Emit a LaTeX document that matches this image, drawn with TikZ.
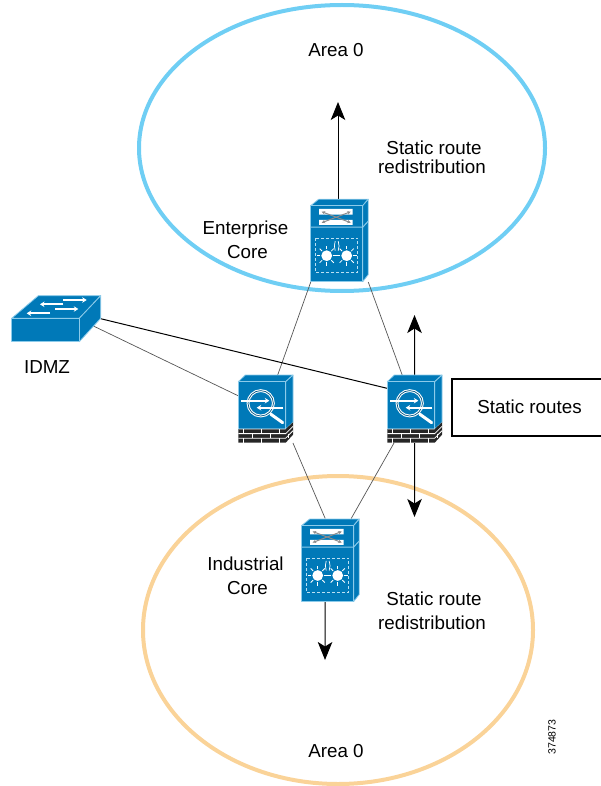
\documentclass[tikz,border=0pt]{standalone}
\usepackage{fontspec}
\setmainfont{Liberation Sans}
\usetikzlibrary{arrows.meta}
\definecolor{CiscoBlue}{HTML}{0079B8}
\definecolor{CiscoEdge}{HTML}{8CCBEA}
\definecolor{AreaCyan}{HTML}{6FCEF4}
\definecolor{AreaPeach}{HTML}{FAD398}
\definecolor{LinkGrey}{HTML}{555555}

\begin{document}
\begin{tikzpicture}[x=1pt,y=-1pt,
    node font=\fontsize{18.8}{19}\selectfont,
    area/.style={line width=4pt,draw=#1},
    iconbox/.style={inner sep=0pt,outer sep=0pt,minimum width=#1},
    link/.style={draw=LinkGrey,line width=0.7pt},
    flow/.style={draw=black,line width=1pt,-{Stealth[length=18pt,width=14.5pt,inset=4.5pt]}},
    caption/.style={align=center,inner sep=0pt},
    face/.style={fill=CiscoBlue,draw=CiscoEdge,line width=0.8pt,line join=round},
    whitearrow/.style={draw=white,line width=1.7pt,-{Stealth[length=4.5pt,width=5.5pt]}},
    core icon/.pic={
        \path[face] (0,0) -- (8,-6.5) -- (57.5,-6.5) -- (52,0) -- cycle;
        \path[face] (52,0) -- (57.5,-6.5) -- (57.5,69) -- (52,76) -- cycle;
        \path[face] (0,0) rectangle (52,76);
        \draw[CiscoEdge,line width=1pt] (0,21.5) -- (52,21.5) -- (57.5,15.5);
        \fill[white] (8.3,3.3) rectangle (42,8.9) (8.3,14.3) rectangle (42,19.3);
        \foreach \A/\B in {6/17,17/6}
           \draw[black!45,line width=1pt,{Stealth[length=3.5pt,width=3.5pt]}-{Stealth[length=3.5pt,width=3.5pt]}] (11,\A) -- (40,\B);
        \draw[CiscoEdge!60!white,line width=1pt,dash pattern=on 3pt off 2pt] (5,32.5) rectangle (47,67);
        \foreach \X in {16,36}{
           \fill[white] (\X,50) circle (5.4);
           \foreach \R in {0,45,...,315}
              \draw[white,line width=0.8pt] (\X,50) ++(\R:6.5) -- ++(\R:3.5);
        }
        \draw[white,line width=0.7pt] (24.5,45) arc (160:200:14) (27.5,45) arc (20:-20:14);
    },
    firewall icon/.pic={
        \path[face] (0,0) -- (7,-6.7) -- (54.7,-6.7) -- (47.4,0) -- cycle;
        \path[face] (47.4,0) -- (54.7,-6.7) -- (54.7,40.6) -- (47.4,47.3) -- cycle;
        \path[face] (0,0) rectangle (47.4,47.3);
        \fill[black!85] (0,47.3) -- (47.4,47.3) -- (54.7,40.6) -- (54.7,53) -- (47.4,61) -- (0,61) -- cycle;
        \draw[white,line width=0.8pt] (0,47.3) -- (47.4,47.3) (0,51.9) -- (47.4,51.9) -- (54.7,44.7) (0,56.5) -- (47.4,56.5) -- (54.7,49);
        \foreach \X in {5,23,41}
           \draw[white,line width=0.8pt] (\X,47.3) -- (\X,51.9) (\X+9,51.9) -- (\X+9,56.5) (\X,56.5) -- (\X,61);
        \draw[white,line width=3pt,line cap=round] (32.5,32.5) -- (44.4,41);
        \draw[white,line width=2.8pt] (22.4,21.6) circle (12.7);
        \draw[CiscoBlue!70!black,line width=0.7pt] (22.4,21.6) circle (12.7);
        \draw[whitearrow] (2.7,19) -- (31,19);
        \draw[whitearrow] (45,26) -- (18.4,26);
    },
    switch icon/.pic={
        \path[face] (0,0) -- (26.6,-22.6) -- (89,-22.6) -- (67.6,0) -- cycle;
        \path[face] (67.6,0) -- (89,-22.6) -- (89,0) -- (67.6,23.4) -- cycle;
        \path[face] (0,0) rectangle (67.6,23.4);
        \draw[whitearrow] (51.6,-18.3) -- (75,-18.3);
        \draw[whitearrow] (51.6,-14) -- (28.3,-14);
        \draw[whitearrow] (43.3,-9.3) -- (66.6,-9.3);
        \draw[whitearrow] (38.3,-5) -- (15,-5);
    }]
    \useasboundingbox (0,0) rectangle (600,786);
    % areas
    \draw[area=AreaCyan] (342,148) ellipse [x radius=203,y radius=143];
    \draw[area=AreaPeach] (338,630) ellipse [x radius=195,y radius=154];
    % places of the icons
    \node[iconbox=57.5pt,minimum height=83pt] (entcore) at (339.5,240.5) {};
    \node[iconbox=57.5pt,minimum height=83pt] (indcore) at (330.2,560) {};
    \node[iconbox=54.7pt,minimum height=68pt] (fwleft) at (265.6,409) {};
    \node[iconbox=54.7pt,minimum height=68pt] (fwright) at (414.6,409) {};
    \node[iconbox=89pt,minimum height=46pt] (idmz) at (56.2,318.7) {};
    \coordinate (areaup) at (338,102);
    \coordinate (fwup) at (414.5,315);
    \coordinate (fwdown) at (414.5,517);
    \coordinate (inddown) at (325,660);
    % links
    \draw[link] (entcore.south west) -- (fwleft.center);
    \draw[link] (entcore.south east) -- (fwright.center);
    \draw[link] (fwleft.south east) -- ([xshift=-5pt]indcore.north);
    \draw[link] ([xshift=-20.6pt]fwright.south) -- ([xshift=21pt]indcore.north);
    \draw[link] ([xshift=-10pt,yshift=-6pt]idmz.east) -- (fwleft.center);
    \draw[black,line width=1pt] (idmz.east) -- ([yshift=14pt]fwright.center);
    % flows
    \draw[flow] ([xshift=-1.5pt]entcore.north) -- (areaup);
    \draw[flow] (fwright.north) -- (fwup);
    \draw[flow] (fwright.south) -- (fwdown);
    \draw[flow] ([xshift=-5pt]indcore.south) -- (inddown);
    % icons
    \path (310.7,205.7) pic {core icon}
          (301.7,525.5) pic {core icon}
          (238.3,381.7) pic {firewall icon}
          (387.3,381.7) pic {firewall icon}
          (11.7,318.3) pic {switch icon};
    % texts
    \node[caption] (areatop) at (336,50) {Area 0};
    \node[caption] (areabot) at (336,751) {Area 0};
    \node[caption] (redisttop) at (432,157) {\hspace*{4pt}Static route\\redistribution};
    \node[caption] (redistbot) at (432,611) {\hspace*{4pt}Static route\\[5pt]redistribution};
    \node[caption] (enttext) at (245.5,240) {Enterprise\\[5pt]\hspace*{4pt}Core};
    \node[caption] (indtext) at (245.5,576) {Industrial\\[5pt]\hspace*{4pt}Core};
    \node[caption] (idmztext) at (47,367) {IDMZ};
    \node[draw=black,line width=1.5pt,minimum width=152pt,minimum height=57pt,inner sep=0pt] (staticroutes) at (528,407.5) {};
    \node[caption] (statictext) at (529.5,407) {Static routes};
    \node[rotate=90,caption,font=\fontsize{10.5}{11}\selectfont] (fignum) at (552,737) {374873};
\end{tikzpicture}
\end{document}
